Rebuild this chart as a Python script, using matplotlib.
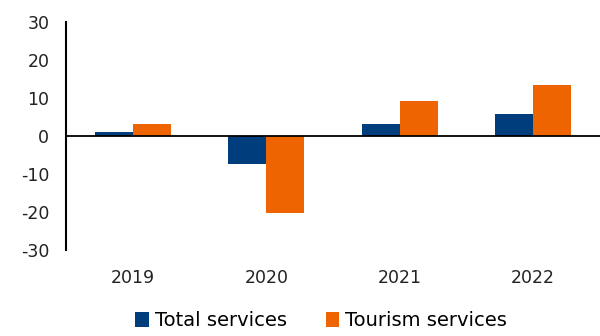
import numpy as np
import matplotlib.pyplot as plt

years = ["2019", "2020", "2021", "2022"]
total_services = [1.0, -7.4, 3.1, 5.7]
tourism_services = [3.1, -20.2, 9.1, 13.5]

blue = "#003d7c"
orange = "#ee6400"

plt.rcParams["font.family"] = ["DejaVu Sans"]
plt.rcParams["axes.unicode_minus"] = False

fig = plt.figure(figsize=(6, 3.36), dpi=100)
ax = fig.add_axes([0.11, 0.256, 0.89, 0.679])

x = np.arange(len(years))
w = 0.284
ax.bar(x - w / 2, total_services, w, color=blue, label="Total services")
ax.bar(x + w / 2, tourism_services, w, color=orange, label="Tourism services")

ax.set_xlim(-0.5, len(years) - 0.5)
ax.set_ylim(-30, 30)
ax.set_yticks(range(-30, 31, 10))
ax.set_xticks(x)
ax.set_xticklabels(years)
ax.axhline(0, color="black", lw=1.3)

for s in ["top", "right", "bottom"]:
    ax.spines[s].set_visible(False)
ax.spines["left"].set_linewidth(1.5)
ax.tick_params(axis="both", length=0, labelsize=12.5, colors="#222222")
ax.tick_params(axis="y", pad=12)
ax.tick_params(axis="x", pad=14)

fig.legend(loc="lower center", bbox_to_anchor=(0.535, -0.035), ncol=2, frameon=False,
           fontsize=14, handlelength=0.7, handleheight=0.8, handletextpad=0.3,
           columnspacing=2.0)

fig.savefig("out.png", dpi=100)
